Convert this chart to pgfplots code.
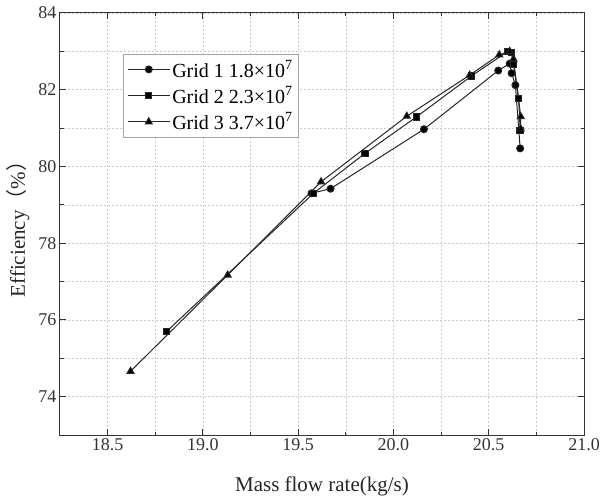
\documentclass[border=0pt]{standalone}
\usepackage{fontspec}
\setmainfont{Liberation Serif}
\newfontfamily\cjk{Noto Sans CJK SC}
\usepackage{pgfplots}
\pgfplotsset{compat=1.18}
\begin{document}
\begin{tikzpicture}
\useasboundingbox (-60pt,-65pt) rectangle (541pt,435pt);
\begin{axis}[
  at={(0,0)}, anchor=south west,
  scale only axis, width=524pt, height=422pt,
  xmin=18.25, xmax=21.0, ymin=73, ymax=84,
  xtick={18.5,19.0,...,21.0},
  ytick={74,76,...,84},
  minor x tick num=1, minor y tick num=1,
  grid=both,
  major grid style={gray!40, dash pattern=on 2pt off 2pt, line width=0.5pt},
  minor grid style={gray!40, dash pattern=on 2pt off 2pt, line width=0.5pt},
  axis line style={line width=1pt, black!80},
  tick style={line width=1pt, black!80},
  major tick length=6pt, minor tick length=3.5pt,
  xticklabel style={/pgf/number format/.cd, fixed, fixed zerofill, precision=1},
  /pgf/number format/assume math mode=true,
  tick label style={font=\fontsize{18}{20}\selectfont, text=black!80},
  label style={font=\fontsize{21}{24}\selectfont, text=black!85},
  xlabel={Mass flow rate(kg/s)},
  ylabel={Efficiency{\cjk （}\%{\cjk ）}},
  xlabel style={at={(axis description cs:0.5,-0.122)}, anchor=center},
  ylabel style={at={(axis description cs:-0.080,0.5)}, anchor=center},
  legend style={at={(0.12,0.903)}, anchor=north west, draw=gray!70, line width=0.8pt,
    font=\fontsize{20}{22}\selectfont, row sep=4pt, inner sep=4pt},
  legend cell align=left,
  legend image code/.code={\draw[mark repeat=2,mark phase=2] plot coordinates {(0pt,0pt) (21pt,0pt) (42pt,0pt)};},
  every axis plot/.append style={line width=1pt, black!85},
]
\addplot[mark=*, mark size=3.5pt, mark options={fill=black}] coordinates {
(19.57,79.30) (19.67,79.42) (20.16,80.97) (20.55,82.50) (20.61,82.68) (20.62,82.43) (20.64,82.12) (20.665,80.47)
};
\addlegendentry{Grid 1 1.8×10\textsuperscript{7}}
\addplot[mark=square*, mark size=3.2pt, mark options={fill=black}] coordinates {
(18.81,75.70) (19.58,79.30) (19.85,80.34) (20.12,81.29) (20.41,82.36) (20.60,83.00) (20.62,82.97) (20.63,82.65) (20.657,81.77) (20.665,80.93)
};
\addlegendentry{Grid 2 2.3×10\textsuperscript{7}}
\addplot[mark=triangle*, mark size=4pt, mark options={fill=black}] coordinates {
(18.62,74.66) (19.13,77.17) (19.62,79.60) (20.07,81.31) (20.40,82.38) (20.555,82.91) (20.61,83.00) (20.63,82.80) (20.668,81.30) (20.668,80.98)
};
\addlegendentry{Grid 3 3.7×10\textsuperscript{7}}
\end{axis}
\end{tikzpicture}
\end{document}
